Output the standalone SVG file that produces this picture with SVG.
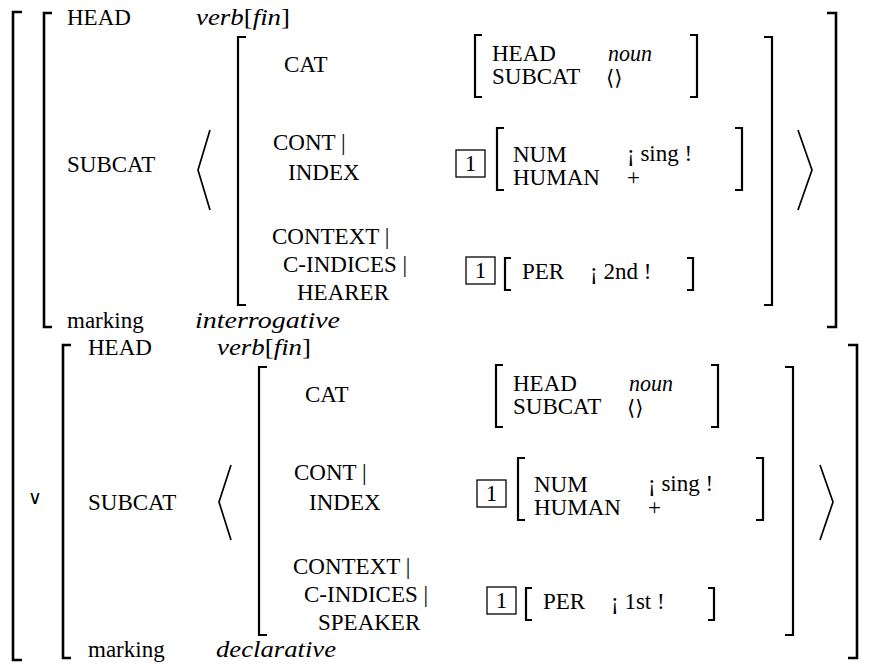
<svg xmlns="http://www.w3.org/2000/svg" width="882" height="664" viewBox="0 0 882 664">
<style>
.t{font-family:"Liberation Serif","Times New Roman",serif;font-size:23px;fill:#000}
.i{font-style:italic}
.m{font-family:"DejaVu Serif","DejaVu Sans",serif;font-size:21px}
.br{fill:none;stroke:#000;stroke-width:2.2}
.bb{fill:none;stroke:#000;stroke-width:2.6}
.ang{fill:none;stroke:#000;stroke-width:1.7}
.box{fill:none;stroke:#000;stroke-width:1.3}
</style>
<rect width="882" height="664" fill="#fff"/>
<g id="outer">
<path class="bb" d="M22 12H13V660H22"/>
<text x="28" y="504" style="font-family:'DejaVu Sans',sans-serif;font-size:19px;fill:#000">∨</text>
</g>
<g id="avm-interrogative">
<path class="bb" d="M52 13H44V327H52"/>
<path class="bb" d="M827 13H836V327H827"/>
<text class="t" x="67" y="25">HEAD</text>
<text class="t" x="196" y="25" textLength="94" lengthAdjust="spacingAndGlyphs"><tspan class="i">verb</tspan>[<tspan class="i">fin</tspan>]</text>
<text class="t" x="67" y="172">SUBCAT</text>
<polyline class="ang" points="210,130 198,170 210,210"/>
<polyline class="ang" points="798,130 812,170 798,210"/>
<path class="br" d="M246 37H238V305H246"/>
<path class="br" d="M764 37H772V305H764"/>
<text class="t" x="284" y="72">CAT</text>
<path class="br" d="M482 35H475V97H482"/>
<path class="br" d="M690 35H697V97H690"/>
<text class="t" x="492" y="61">HEAD</text>
<text class="t i" x="608" y="61" textLength="44" lengthAdjust="spacingAndGlyphs">noun</text>
<text class="t" x="492" y="84">SUBCAT</text>
<text class="m" x="606" y="85">⟨⟩</text>
<text class="t" x="273" y="150">CONT |</text>
<text class="t" x="288" y="180">INDEX</text>
<rect class="box" x="456" y="150" width="29" height="27"/>
<text class="t" x="470.5" y="171" text-anchor="middle">1</text>
<path class="br" d="M504 128H497V190H504"/>
<path class="br" d="M735 128H742V190H735"/>
<text class="t" x="513" y="162">NUM</text>
<text class="t" x="513" y="185">HUMAN</text>
<text class="t" x="627" y="161">¡ sing !</text>
<text class="t" x="627" y="185">+</text>
<text class="t" x="272" y="244">CONTEXT |</text>
<text class="t" x="283" y="272">C-INDICES |</text>
<text class="t" x="297" y="300">HEARER</text>
<rect class="box" x="466" y="257" width="29" height="27"/>
<text class="t" x="480.5" y="278" text-anchor="middle">1</text>
<path class="br" d="M511 258H505V290H511"/>
<path class="br" d="M687 258H693V290H687"/>
<text class="t" x="522" y="279">PER</text>
<text class="t" x="590" y="279">¡ 2nd !</text>
<text class="t" x="67" y="328">marking</text>
<text class="t i" x="195" y="328" textLength="145" lengthAdjust="spacingAndGlyphs">interrogative</text>
</g>
<g id="avm-declarative" transform="translate(21,330)">
<path class="bb" d="M50 15H42V328H50"/>
<path class="bb" d="M827 15H836V328H827"/>
<text class="t" x="67" y="25">HEAD</text>
<text class="t" x="196" y="25" textLength="94" lengthAdjust="spacingAndGlyphs"><tspan class="i">verb</tspan>[<tspan class="i">fin</tspan>]</text>
<text class="t" x="67" y="180">SUBCAT</text>
<polyline class="ang" points="210,135 198,172 210,210"/>
<polyline class="ang" points="799,135 812,172 799,210"/>
<path class="br" d="M246 37H238V305H246"/>
<path class="br" d="M764 37H772V305H764"/>
<text class="t" x="284" y="72">CAT</text>
<path class="br" d="M482 35H475V97H482"/>
<path class="br" d="M690 35H697V97H690"/>
<text class="t" x="492" y="61">HEAD</text>
<text class="t i" x="608" y="61" textLength="44" lengthAdjust="spacingAndGlyphs">noun</text>
<text class="t" x="492" y="84">SUBCAT</text>
<text class="m" x="606" y="85">⟨⟩</text>
<text class="t" x="273" y="150">CONT |</text>
<text class="t" x="288" y="180">INDEX</text>
<rect class="box" x="456" y="150" width="29" height="27"/>
<text class="t" x="470.5" y="171" text-anchor="middle">1</text>
<path class="br" d="M504 128H497V190H504"/>
<path class="br" d="M735 128H742V190H735"/>
<text class="t" x="513" y="162">NUM</text>
<text class="t" x="513" y="185">HUMAN</text>
<text class="t" x="627" y="161">¡ sing !</text>
<text class="t" x="627" y="185">+</text>
<text class="t" x="272" y="244">CONTEXT |</text>
<text class="t" x="283" y="272">C-INDICES |</text>
<text class="t" x="297" y="300">SPEAKER</text>
<rect class="box" x="466" y="257" width="29" height="27"/>
<text class="t" x="480.5" y="278" text-anchor="middle">1</text>
<path class="br" d="M511 258H505V290H511"/>
<path class="br" d="M687 258H693V290H687"/>
<text class="t" x="522" y="279">PER</text>
<text class="t" x="590" y="279">¡ 1st !</text>
<text class="t" x="67" y="327">marking</text>
<text class="t i" x="195" y="327" textLength="120" lengthAdjust="spacingAndGlyphs">declarative</text>
</g>
</svg>
